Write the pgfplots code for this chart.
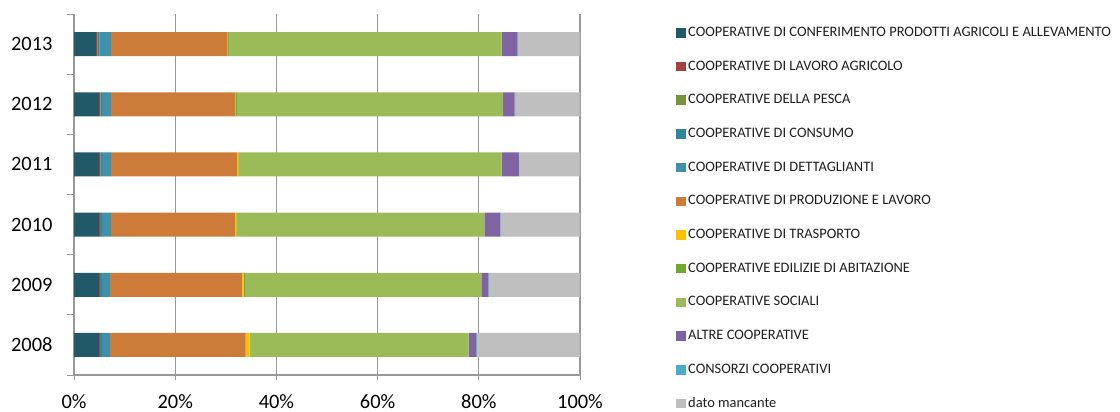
\documentclass[border=0pt]{standalone}
\usepackage{pgfplots}
\usepackage{pgfplotstable}
\pgfplotsset{compat=1.18}
\usepackage{fontspec}
\setmainfont{Carlito}
\definecolor{cConf}{HTML}{215968}
\definecolor{cLav}{HTML}{A5403C}
\definecolor{cPesca}{HTML}{77933C}
\definecolor{cCons}{HTML}{31859C}
\definecolor{cDett}{HTML}{3F90AB}
\definecolor{cProd}{HTML}{CD7B38}
\definecolor{cTrasp}{HTML}{FFC000}
\definecolor{cEdil}{HTML}{6FA832}
\definecolor{cSoc}{HTML}{9BBB59}
\definecolor{cAltre}{HTML}{8064A2}
\definecolor{cConsorzi}{HTML}{4BACC6}
\definecolor{cManc}{HTML}{BFBFBF}
\definecolor{gridgray}{HTML}{989898}
\pgfplotstableread{
y conf lav pesca cons dett prod trasp edil soc altre consorzi manc
0 4.9 0.2 0.05 0.35 1.6 26.8 0.8 0.2 43.1 1.5 0.2 20.3
1 4.9 0.2 0.05 0.35 1.6 26.1 0.3 0.4 46.6 1.4 0.2 17.9
2 4.9 0.2 0.05 0.35 1.8 24.5 0.3 0.1 48.9 3.1 0.1 15.7
3 4.9 0.25 0.05 0.3 1.8 24.9 0.3 0.1 51.9 3.4 0.1 12.0
4 4.9 0.25 0.1 0.3 1.75 24.5 0.1 0.3 52.6 2.3 0.1 12.8
5 4.3 0.3 0.1 0.3 2.3 23.0 0.1 0.3 53.8 3.1 0.1 12.3
}\data
\begin{document}
\begin{tikzpicture}
\path[use as bounding box] (0bp,0bp) rectangle (1120bp,412bp);
\begin{axis}[
  at={(74bp,37bp)}, anchor=south west,
  scale only axis, width=506bp, height=361bp,
  xbar stacked, bar width=24bp,
  xmin=0, xmax=100, ymin=-0.5, ymax=5.5,
  xtick={0,20,40,60,80,100},
  xticklabels={0\%,20\%,40\%,60\%,80\%,100\%},
  ytick={0,1,2,3,4,5},
  yticklabels={2008,2009,2010,2011,2012,2013},
  minor ytick={-0.5,0.5,1.5,2.5,3.5,4.5,5.5},
  tick align=outside,
  major tick length=5bp,
  minor tick length=7bp,
  y tick style={draw=none},
  minor y tick style={draw=gridgray, line width=1bp},
  x tick style={draw=gridgray, line width=1bp},
  xmajorgrids, major grid style={draw=gridgray, line width=1.2bp},
  axis x line*=bottom, axis y line*=left,
  axis line style={draw=gridgray, line width=1.2bp, -},
  tick label style={font=\fontsize{20.5}{24}\selectfont, text=black},
  xticklabel style={yshift=-11bp},
  yticklabel style={xshift=-13bp},
  legend cell align=left,
  legend style={at={(1.1838,0.972)}, anchor=north west, draw=none,
    font=\fontsize{14.5}{16}\selectfont, text=black!88,
    nodes={inner sep=0pt, text height=10bp, text depth=3bp},
    row sep=20.7bp, column sep=2.5bp},
  legend image code/.code={\fill[#1,draw=none] (0bp,-4.75bp) rectangle (9.5bp,4.75bp);},
  every axis plot/.append style={draw=none},
]
\addplot[fill=cConf] table[x=conf,y=y]{\data};
\addplot[fill=cLav] table[x=lav,y=y]{\data};
\addplot[fill=cPesca] table[x=pesca,y=y]{\data};
\addplot[fill=cCons] table[x=cons,y=y]{\data};
\addplot[fill=cDett] table[x=dett,y=y]{\data};
\addplot[fill=cProd] table[x=prod,y=y]{\data};
\addplot[fill=cTrasp] table[x=trasp,y=y]{\data};
\addplot[fill=cEdil] table[x=edil,y=y]{\data};
\addplot[fill=cSoc] table[x=soc,y=y]{\data};
\addplot[fill=cAltre] table[x=altre,y=y]{\data};
\addplot[fill=cConsorzi] table[x=consorzi,y=y]{\data};
\addplot[fill=cManc] table[x=manc,y=y]{\data};
\legend{COOPERATIVE DI CONFERIMENTO PRODOTTI AGRICOLI E ALLEVAMENTO,
COOPERATIVE DI LAVORO AGRICOLO,
COOPERATIVE DELLA PESCA,
COOPERATIVE DI CONSUMO,
COOPERATIVE DI DETTAGLIANTI,
COOPERATIVE DI PRODUZIONE E LAVORO,
COOPERATIVE DI TRASPORTO,
COOPERATIVE EDILIZIE DI ABITAZIONE,
COOPERATIVE SOCIALI,
ALTRE COOPERATIVE,
CONSORZI COOPERATIVI,
dato mancante}
\end{axis}
\end{tikzpicture}
\end{document}
